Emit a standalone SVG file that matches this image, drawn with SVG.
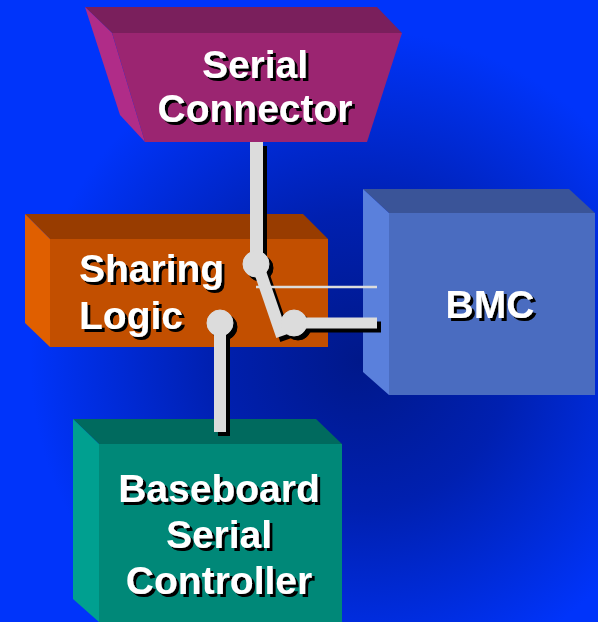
<svg xmlns="http://www.w3.org/2000/svg" xmlns:xlink="http://www.w3.org/1999/xlink" width="598" height="622" viewBox="0 0 598 622">
  <defs>
    <radialGradient id="bg" cx="360" cy="360" r="330" gradientUnits="userSpaceOnUse">
      <stop offset="0" stop-color="#00188a"/>
      <stop offset="0.45" stop-color="#0020b0"/>
      <stop offset="1" stop-color="#0034fa"/>
    </radialGradient>
    <filter id="shadow" x="-10%" y="-10%" width="130%" height="130%">
      <feDropShadow dx="3" dy="3" stdDeviation="0" flood-color="#000" flood-opacity="1"/>
    </filter>
    <!-- wire geometry, coloured by each <use> -->
    <g id="wires">
      <line x1="256.5" y1="142" x2="256.5" y2="264" stroke-width="13"/>
      <line x1="258" y1="266" x2="282" y2="336" stroke-width="12"/>
      <line x1="294" y1="323" x2="377" y2="323" stroke-width="11"/>
      <line x1="220" y1="323" x2="220" y2="432" stroke-width="12"/>
      <circle cx="256" cy="264" r="13"/>
      <circle cx="294" cy="323" r="13"/>
      <circle cx="220" cy="323" r="13"/>
    </g>
  </defs>
  <style>
    .label { font-family: "Liberation Sans", Arial, sans-serif; font-weight: bold; font-size: 39px; fill: #ffffff; filter: url(#shadow); }
    .mid { text-anchor: middle; }
  </style>

  <rect x="0" y="0" width="598" height="622" fill="url(#bg)"/>

  <g id="serial-connector">
    <polygon points="85,7 377,7 402,33 112,33" fill="#7a1f5c"/>
    <polygon points="85,7 112,33 145,142 120,115" fill="#b02c88"/>
    <polygon points="112,33 402,33 367,142 145,142" fill="#9b2571"/>
    <text class="label mid" x="255" y="78">Serial</text>
    <text class="label mid" x="255" y="122">Connector</text>
  </g>

  <g id="sharing-logic">
    <polygon points="25,214 303,214 328,239 50,239" fill="#983c00"/>
    <polygon points="25,214 50,239 50,347 25,323" fill="#e05f00"/>
    <rect x="50" y="239" width="278" height="108" fill="#c24f00"/>
    <text class="label" x="79" y="282">Sharing</text>
    <text class="label" x="79" y="329">Logic</text>
  </g>

  <g id="bmc">
    <polygon points="363,189 569,189 595,213 389,213" fill="#3a5498"/>
    <polygon points="363,189 389,213 389,395 363,372" fill="#5a80dc"/>
    <rect x="389" y="213" width="206" height="182" fill="#4a6cc0"/>
    <text class="label mid" x="490" y="318">BMC</text>
  </g>

  <g id="baseboard-serial-controller">
    <polygon points="73,419 316,419 342,444 99,444" fill="#006a5e"/>
    <polygon points="73,419 99,444 99,622 73,599" fill="#00a090"/>
    <rect x="99" y="444" width="243" height="178" fill="#008878"/>
    <text class="label mid" x="219" y="502">Baseboard</text>
    <text class="label mid" x="219" y="548">Serial</text>
    <text class="label mid" x="219" y="594">Controller</text>
  </g>

  <g id="connectors">
    <use xlink:href="#wires" stroke="#000" fill="#000" transform="translate(4,4)"/>
    <use xlink:href="#wires" stroke="#dcdcdc" fill="#dcdcdc"/>
    <line x1="256" y1="287" x2="377" y2="287" stroke="#dcdcdc" stroke-width="2.5"/>
  </g>
</svg>
